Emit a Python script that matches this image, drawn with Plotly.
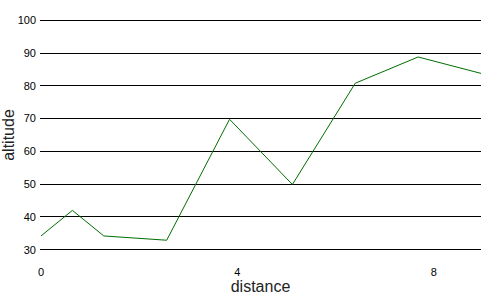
import plotly.graph_objects as go

distance = [0, 0.64, 1.28, 2.56, 3.84, 5.12, 6.4, 7.68, 8.96]
altitude = [34.2, 42, 34.2, 32.9, 69.8, 49.9, 80.8, 88.8, 83.8]
x_ticks = [0, 4, 8]
y_ticks = [30, 40, 50, 60, 70, 80, 90, 100]

fig = go.Figure(go.Scatter(x=distance, y=altitude, mode="lines",
                           line=dict(color="#006e00", width=1)))
fig.update_layout(
    width=500, height=300,
    margin=dict(l=40, r=19, t=17, b=47, autoexpand=False),
    plot_bgcolor="white", paper_bgcolor="white",
    showlegend=False,
    font=dict(family="Liberation Sans, Arial, sans-serif", color="#222"),
)
fig.update_xaxes(
    range=[-0.02, 8.96], tickvals=x_ticks, showgrid=False, zeroline=False,
    showline=False, ticks="", tickfont=dict(size=11, color="#000"),
    ticklabelstandoff=11, automargin=False,
    title=dict(text="distance", font=dict(size=16, color="#222"), standoff=0),
)
fig.update_yaxes(
    range=[29, 101], tickvals=y_ticks, showgrid=True, gridcolor="#000",
    gridwidth=1, zeroline=False, showline=False, ticks="",
    tickfont=dict(size=11, color="#000"), ticklabelstandoff=3, automargin=False,
    title=dict(text="altitude", font=dict(size=16, color="#222"), standoff=4),
)
fig.write_html("out.html")
